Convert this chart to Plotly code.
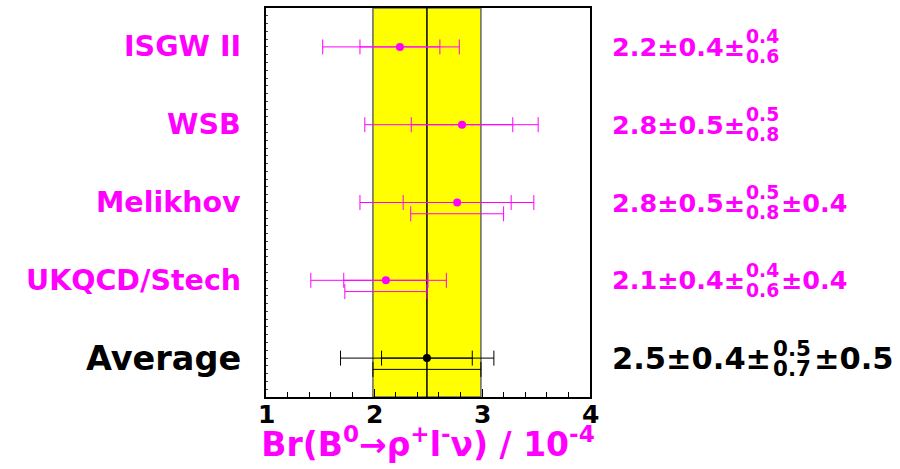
import plotly.graph_objects as go

# ---------------- data ----------------
models = ["ISGW II", "WSB", "Melikhov", "UKQCD/Stech", "Average"]
rows = [5, 4, 3, 2, 1]
central = [2.24, 2.815, 2.77, 2.11, 2.49]
stat_err = [0.37, 0.47, 0.50, 0.39, 0.42]
tot_err_plus = [0.55, 0.705, 0.71, 0.56, 0.62]
tot_err_minus = [0.715, 0.90, 0.90, 0.695, 0.80]
model_err = [None, None, 0.43, 0.38, 0.50]

val_main = ["2.2±0.4±", "2.8±0.5±", "2.8±0.5±", "2.1±0.4±", "2.5±0.4±"]
val_sup = ["0.4", "0.5", "0.5", "0.4", "0.5"]
val_sub = ["0.6", "0.8", "0.8", "0.6", "0.7"]
val_extra = ["", "", "±0.4", "±0.4", "±0.5"]

x_tick_vals = [1, 2, 3, 4]
x_tick_text = ["1", "2", "3", "4"]
x_title = "Br(B<sup>0</sup>→ρ<sup>+</sup>l<sup>-</sup>ν) / 10<sup>-4</sup>"

# ---------------- style ----------------
MAG = "#ff00ff"
colors = [MAG, MAG, MAG, MAG, "#000000"]
is_avg = [False, False, False, False, True]
FONT = "DejaVu Sans"
W, H = 900, 469
ML, MR, MT, MB = 266, 310, 6, 72
PW = W - ML - MR


def px2paper(px):
    return (px - ML) / PW


fig = go.Figure()

avg_c = central[-1]
avg_m = model_err[-1]

# yellow band and average line
fig.add_shape(type="rect", xref="x", yref="paper", x0=avg_c - avg_m, x1=avg_c + avg_m,
              y0=0, y1=1, fillcolor="#ffff00", line=dict(color="#666666", width=1.5),
              layer="below")
fig.add_shape(type="line", xref="x", yref="paper", x0=avg_c, x1=avg_c, y0=0, y1=1,
              line=dict(color="#000000", width=1.5), layer="below")

for i, m in enumerate(models):
    c = colors[i]
    # total error
    fig.add_trace(go.Scatter(
        x=[central[i]], y=[rows[i]], mode="markers",
        marker=dict(size=1, color=c, opacity=0),
        error_x=dict(type="data", symmetric=False, array=[tot_err_plus[i]],
                     arrayminus=[tot_err_minus[i]], color=c, thickness=1, width=7.5),
        showlegend=False, hoverinfo="skip"))
    # stat error + point
    fig.add_trace(go.Scatter(
        x=[central[i]], y=[rows[i]], mode="markers",
        marker=dict(size=8, color=c, symbol="circle"),
        error_x=dict(type="data", array=[stat_err[i]], color=c, thickness=1, width=7.5),
        showlegend=False, name=m))
    # model dependence
    if model_err[i] is not None:
        fig.add_trace(go.Scatter(
            x=[central[i]], y=[rows[i] - 0.145], mode="markers",
            marker=dict(size=1, color=c, opacity=0),
            error_x=dict(type="data", array=[model_err[i]], color=c, thickness=1, width=7.5),
            showlegend=False, hoverinfo="skip"))

annotations = []
# x tick labels
for v, t in zip(x_tick_vals, x_tick_text):
    annotations.append(dict(
        xref="x", yref="paper", x=v, y=0, xanchor="center", yanchor="top", yshift=-1,
        text="<b>%s</b>" % t, showarrow=False,
        font=dict(family=FONT, size=25, color="black")))

for i, m in enumerate(models):
    c = colors[i]
    big = is_avg[i]
    annotations.append(dict(
        xref="paper", yref="y", x=px2paper(243), y=rows[i], xanchor="right", yanchor="middle",
        text="<b>%s</b>" % m, showarrow=False,
        font=dict(family=FONT, size=33.5 if big else 28.5, color=c)))
    main_size = 30.5 if big else 25.5
    sup_size = 21.4 if big else 18.8
    sup_x = 771 if big else 744
    extra_x = 812 if big else 779
    annotations.append(dict(
        xref="paper", yref="y", x=px2paper(609.5), y=rows[i], xanchor="left", yanchor="middle",
        text="<b>%s</b>" % val_main[i], showarrow=False,
        font=dict(family=FONT, size=main_size, color=c)))
    annotations.append(dict(
        xref="paper", yref="y", x=px2paper(sup_x), y=rows[i], xanchor="left", yanchor="middle",
        yshift=10, text="<b>%s</b>" % val_sup[i], showarrow=False,
        font=dict(family=FONT, size=sup_size, color=c)))
    annotations.append(dict(
        xref="paper", yref="y", x=px2paper(sup_x), y=rows[i], xanchor="left", yanchor="middle",
        yshift=-10, text="<b>%s</b>" % val_sub[i], showarrow=False,
        font=dict(family=FONT, size=sup_size, color=c)))
    if val_extra[i]:
        annotations.append(dict(
            xref="paper", yref="y", x=px2paper(extra_x), y=rows[i], xanchor="left",
            yanchor="middle", text="<b>%s</b>" % val_extra[i], showarrow=False,
            font=dict(family=FONT, size=main_size, color=c)))

fig.update_layout(
    width=W, height=H, margin=dict(l=ML, r=MR, t=MT, b=MB, pad=0),
    paper_bgcolor="white", plot_bgcolor="white",
    annotations=annotations, showlegend=False,
    font=dict(family=FONT),
    xaxis=dict(range=[1, 4], tickvals=x_tick_vals, showticklabels=False,
               ticks="inside", ticklen=8, tickwidth=1, tickcolor="black",
               minor=dict(dtick=0.2, tick0=1, ticks="inside", ticklen=5, tickcolor="black"),
               showgrid=False, zeroline=False, showline=True, linecolor="black",
               linewidth=2, mirror=True,
               title=dict(text="<b>%s</b>" % x_title, standoff=35,
                          font=dict(family=FONT, size=33, color=MAG))),
    yaxis=dict(range=[0.5, 5.5], showticklabels=False, ticks="inside", dtick=0.1, tick0=0.5,
               ticklen=2, tickwidth=1, tickcolor="#444444",
               showgrid=False, zeroline=False, showline=True, linecolor="black",
               linewidth=2, mirror=True),
)

fig.write_html("out.html")
